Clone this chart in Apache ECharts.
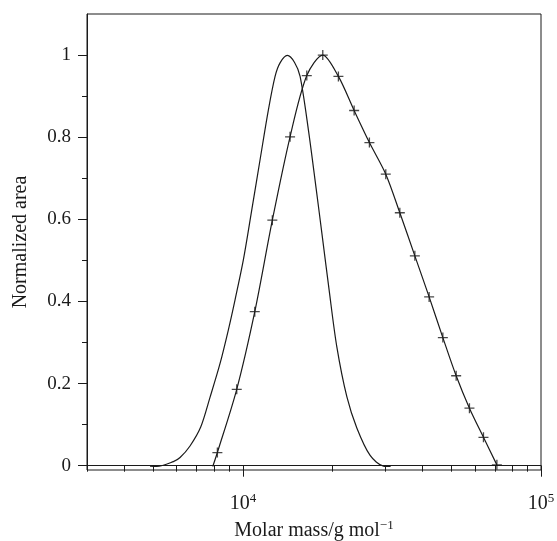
<!DOCTYPE html>
<html>
<head>
<meta charset="utf-8">
<script src="https://cdn.jsdelivr.net/npm/echarts@6/dist/echarts.min.js"></script>
<style>
html,body{margin:0;padding:0;background:#fff;}
#chart{width:557px;height:541px;}
</style>
</head>
<body>
<div id="chart"></div>
<script>
// Curve A (plain line)
const aMass = [4882, 5140, 5845, 6156, 6648, 7220, 7762, 8384, 8940, 9413, 10037, 10711, 11419, 12174, 12823, 13327, 14099, 14906, 15557, 16586, 17602, 18437, 19464, 20654, 22320, 24111, 26719, 29602, 31300];
const aArea = [-0.001, -0.002, 0.010, 0.020, 0.048, 0.094, 0.167, 0.249, 0.331, 0.404, 0.501, 0.623, 0.745, 0.866, 0.948, 0.981, 0.999, 0.982, 0.948, 0.818, 0.676, 0.562, 0.428, 0.290, 0.168, 0.092, 0.025, -0.001, -0.002];

// Curve B (line with + markers)
const bStartMass = 7925;
const bStartArea = -0.002;
const bMass = [8212, 9537, 10962, 12555, 14397, 16382, 18535, 20913, 23616, 26572, 30153, 33610, 37742, 42148, 46856, 51930, 57544, 64121, 71121];
const bArea = [0.032, 0.186, 0.375, 0.598, 0.801, 0.950, 1.000, 0.948, 0.865, 0.787, 0.710, 0.616, 0.511, 0.411, 0.312, 0.219, 0.140, 0.069, 0.002];

// Axes
const xMajorTicks = [10000, 100000];
const xTickExponents = ['4', '5'];
const xMinorTicks = [3000, 4000, 5000, 6000, 7000, 8000, 9000, 20000, 30000, 40000, 50000, 60000, 70000, 80000, 90000];
const yMajorTicks = [0, 0.2, 0.4, 0.6, 0.8, 1];
const yTickLabels = ['0', '0.2', '0.4', '0.6', '0.8', '1'];
const yMinorTicks = [0.1, 0.3, 0.5, 0.7, 0.9];

const FONT = '"Liberation Serif", "DejaVu Serif", serif';
const INK = '#1a1a1a';

const aData = aMass.map((m, i) => [m, aArea[i]]);
const bMarks = bMass.map((m, i) => [m, bArea[i]]);
const bLine = [[bStartMass, bStartArea]].concat(bMarks);

const chart = echarts.init(document.getElementById('chart'), null, {renderer: 'canvas'});

const baseX = {
  type: 'log', logBase: 10, min: 3000, max: 100000,
  position: 'bottom',
  axisLine: {show: true, lineStyle: {color: INK, width: 1}},
  splitLine: {show: false},
  minorTick: {show: false},
  minorSplitLine: {show: false}
};
const baseY = {
  type: 'value', min: -0.0105, max: 1.1,
  position: 'left',
  axisLine: {show: true, lineStyle: {color: INK, width: 1}},
  splitLine: {show: false},
  minorTick: {show: false}
};

chart.setOption({
  animation: false,
  backgroundColor: '#fff',
  grid: {left: 87, right: 16, top: 14, bottom: 71, show: true, borderColor: INK, borderWidth: 1, containLabel: false, outerBoundsMode: 'none'},
  xAxis: [
    Object.assign({}, baseX, {
      name: 'Molar mass/g mol{s|−1}',
      nameLocation: 'middle',
      nameGap: 48,
      nameTextStyle: {fontFamily: FONT, fontSize: 20, color: INK,
        rich: {s: {fontFamily: FONT, fontSize: 13, color: INK, verticalAlign: 'top', padding: [0, 0, 11, 0]}}},
      axisTick: {show: true, inside: false, length: 11, customValues: xMajorTicks, lineStyle: {color: INK, width: 1}},
      axisLabel: {
        show: true, margin: 22, customValues: xMajorTicks, showMinLabel: true, showMaxLabel: true, hideOverlap: false,
        formatter: function (v) {
          const i = xMajorTicks.indexOf(v);
          return '{b|10}{s|' + (i >= 0 ? xTickExponents[i] : '') + '}';
        },
        rich: {
          b: {fontFamily: FONT, fontSize: 20, color: INK},
          s: {fontFamily: FONT, fontSize: 13, color: INK, verticalAlign: 'top', padding: [0, 0, 11, 0]}
        }
      }
    }),
    Object.assign({}, baseX, {
      axisLine: {show: false},
      axisTick: {show: true, inside: false, length: 6, customValues: xMinorTicks, lineStyle: {color: INK, width: 1}},
      axisLabel: {show: false}
    })
  ],
  yAxis: [
    Object.assign({}, baseY, {
      name: 'Normalized area',
      nameLocation: 'middle',
      nameGap: 56,
      nameTextStyle: {fontFamily: FONT, fontSize: 20, color: INK},
      axisTick: {show: true, inside: false, length: 9, customValues: yMajorTicks, lineStyle: {color: INK, width: 1}},
      axisLabel: {
        show: true, margin: 16, customValues: yMajorTicks, showMinLabel: true, showMaxLabel: true,
        fontFamily: FONT, fontSize: 19, color: INK,
        formatter: function (v) {
          let best = 0;
          yMajorTicks.forEach((t, i) => { if (Math.abs(t - v) < Math.abs(yMajorTicks[best] - v)) best = i; });
          return yTickLabels[best];
        }
      }
    }),
    Object.assign({}, baseY, {
      axisLine: {show: false},
      axisTick: {show: true, inside: false, length: 5, customValues: yMinorTicks, lineStyle: {color: INK, width: 1}},
      axisLabel: {show: false}
    })
  ],
  series: [
    {
      type: 'line', xAxisIndex: 0, yAxisIndex: 0, data: aData,
      smooth: 0.3, showSymbol: false, symbol: 'none',
      lineStyle: {color: INK, width: 1.2}, z: 3
    },
    {
      type: 'line', xAxisIndex: 0, yAxisIndex: 0, data: bLine,
      smooth: 0.3, showSymbol: false, symbol: 'none',
      lineStyle: {color: INK, width: 1.2}, z: 3
    },
    {
      type: 'scatter', xAxisIndex: 0, yAxisIndex: 0, data: bMarks,
      symbol: 'path://M5,0 L5,10 M0,5 L10,5', symbolSize: [10, 10],
      itemStyle: {color: 'none', borderColor: INK, borderWidth: 1.3}, z: 4
    }
  ]
});
</script>
</body>
</html>
